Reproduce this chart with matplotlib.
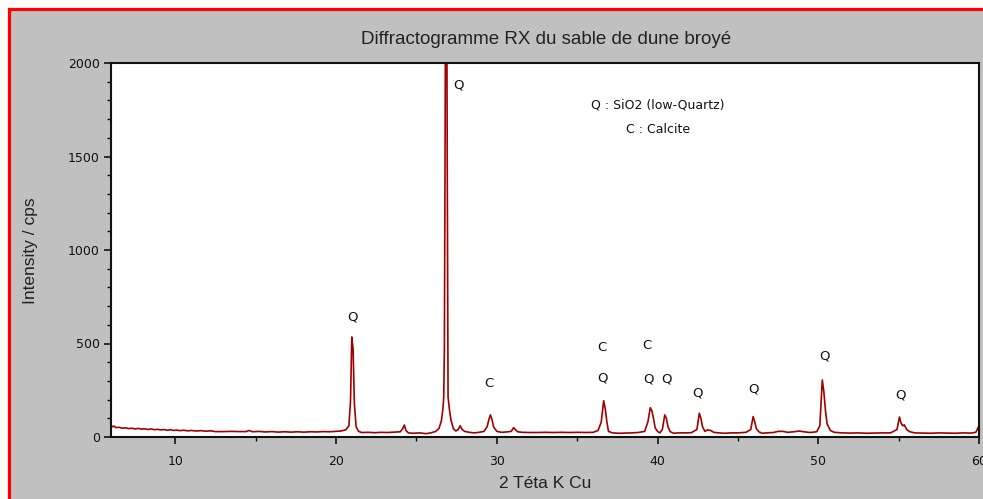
import matplotlib
matplotlib.use("Agg")
import matplotlib.pyplot as plt
from matplotlib.patches import Rectangle
from matplotlib.ticker import MultipleLocator

# ---- data ----
two_theta = [
    6.0, 6.1, 6.2, 6.3, 6.5, 6.7, 6.9, 7.1, 7.3, 7.5, 7.7, 7.9, 8.1, 8.3, 8.5, 8.7, 8.9,
    9.1, 9.3, 9.5, 9.7, 9.9, 10.1, 10.3, 10.5, 10.8, 11.0, 11.3, 11.6, 11.9, 12.2, 12.5,
    13.0, 13.5, 14.0, 14.4, 14.6, 14.8, 15.2, 15.6, 16.0, 16.4, 16.8, 17.2, 17.6, 18.0,
    18.4, 18.8, 19.2, 19.6, 20.0, 20.3, 20.6, 20.8, 20.9, 20.98, 21.06, 21.14, 21.25,
    21.4, 21.6, 22.0, 22.4, 22.8, 23.2, 23.6, 24.0, 24.15, 24.25, 24.35, 24.5, 24.8,
    25.2, 25.6, 25.9, 26.2, 26.4, 26.55, 26.65, 26.7, 26.74, 26.78, 26.82, 26.88,
    26.92, 26.97, 27.05, 27.15, 27.3, 27.45, 27.6, 27.72, 27.85, 28.0, 28.3, 28.6,
    28.9, 29.2, 29.4, 29.5, 29.6, 29.7, 29.8, 30.0, 30.3, 30.6, 30.9, 31.05, 31.15,
    31.3, 31.6, 32.0, 32.5, 33.0, 33.5, 34.0, 34.5, 35.0, 35.5, 36.0, 36.3, 36.5,
    36.65, 36.75, 36.85, 36.95, 37.2, 37.6, 38.0, 38.4, 38.8, 39.2, 39.4, 39.55,
    39.65, 39.75, 39.85, 40.0, 40.15, 40.3, 40.45, 40.55, 40.65, 40.8, 41.0, 41.3,
    41.7, 42.1, 42.45, 42.6, 42.7, 42.8, 42.95, 43.1, 43.3, 43.5, 43.8, 44.2, 44.6,
    45.0, 45.5, 45.8, 45.95, 46.05, 46.15, 46.3, 46.5, 46.8, 47.2, 47.5, 47.8, 48.1,
    48.5, 48.8, 49.1, 49.5, 49.9, 50.1, 50.25, 50.35, 50.45, 50.55, 50.75, 51.0, 51.5,
    52.0, 52.5, 53.0, 53.5, 54.0, 54.5, 54.9, 55.05, 55.15, 55.25, 55.35, 55.5, 55.7,
    56.0, 56.5, 57.0, 57.5, 58.0, 58.5, 59.0, 59.5, 59.8, 60.0,
]
intensity = [
    62, 55, 58, 50, 52, 47, 49, 45, 47, 43, 46, 42, 44, 40, 43, 39, 41,
    38, 40, 36, 39, 35, 37, 34, 36, 33, 35, 32, 34, 31, 33, 29,
    29, 30, 29, 29, 35, 28, 30, 27, 29, 26, 28, 26, 28, 26,
    28, 27, 29, 28, 30, 32, 38, 60, 190, 535, 470, 180, 55,
    30, 24, 25, 23, 25, 24, 26, 28, 45, 64, 35, 22, 20,
    22, 18, 22, 30, 45, 85, 150, 214, 476, 1420, 2600, 2600,
    1414, 214, 150, 90, 45, 32, 40, 60, 40, 30, 25, 22,
    25, 30, 55, 90, 118, 95, 55, 30, 25, 27, 30, 50, 40,
    28, 25, 24, 24, 25, 24, 25, 24, 25, 24, 25, 35, 80,
    194, 150, 80, 30, 22, 20, 21, 22, 24, 30, 80, 157,
    140, 100, 50, 30, 22, 40, 118, 100, 55, 28, 20, 22,
    22, 23, 40, 127, 100, 55, 30, 38, 35, 25, 22, 20, 22,
    22, 25, 40, 109, 80, 45, 28, 20, 22, 24, 30, 30, 25,
    28, 32, 28, 24, 28, 60, 305, 240, 140, 70, 35, 25, 22,
    21, 22, 20, 21, 22, 22, 40, 107, 75, 60, 65, 40, 28,
    22, 21, 20, 22, 21, 20, 22, 21, 25, 60,
]

peak_labels = ["Q", "Q", "C", "C", "Q", "C", "Q", "Q", "Q", "Q", "Q", "Q"]
label_x = [27.6, 21.0, 29.5, 36.55, 36.6, 39.35, 39.45, 40.55, 42.5, 45.95, 50.4, 55.1]
label_y = [1883, 642, 284, 476, 316, 487, 310, 310, 235, 257, 433, 225]

legend_lines = ["Q : SiO2 (low-Quartz)", "C : Calcite"]

title = "Diffractogramme RX du sable de dune broyé"
xlabel = "2 Téta K Cu"
ylabel = "Intensity / cps"

# ---- figure ----
W, H = 983, 499
fig = plt.figure(figsize=(W / 100, H / 100), dpi=100, facecolor="white")
fig.patches.append(Rectangle((8.5 / W, -0.1), 1.2, (H - 8.5) / H + 0.1,
                             transform=fig.transFigure, facecolor="#c0c0c0",
                             edgecolor="#ff0000", linewidth=2.3, zorder=-10))

ax = fig.add_axes([111 / W, (H - 437) / H, (979 - 111) / W, (437 - 63) / H])
ax.set_zorder(5)
ax.set_facecolor("white")
ax.plot(two_theta, intensity, color="#a00000", linewidth=1.2, clip_on=True)
ax.set_xlim(6, 60)
ax.set_ylim(0, 2000)

narrow = ["Liberation Sans Narrow", "DejaVu Sans"]
sans = ["Liberation Sans", "DejaVu Sans"]

ax.xaxis.set_major_locator(MultipleLocator(10))
ax.xaxis.set_minor_locator(MultipleLocator(5))
ax.yaxis.set_major_locator(MultipleLocator(500))
ax.yaxis.set_minor_locator(MultipleLocator(100))
ax.tick_params(which="major", direction="out", length=5, width=1.2, colors="#111111",
               top=False, right=False, pad=3)
ax.tick_params(which="minor", direction="out", length=3, width=1.0, colors="#111111",
               top=False, right=False)
for lab in ax.get_xticklabels() + ax.get_yticklabels():
    lab.set_fontfamily(narrow)
    lab.set_fontsize(9)
    lab.set_color("#111111")
ax.tick_params(axis="x", pad=8)
for s in ax.spines.values():
    s.set_linewidth(1.5)
    s.set_color("#111111")

for t, x, y in zip(peak_labels, label_x, label_y):
    ax.text(x, y, t, ha="center", va="center", fontsize=9.5, family=narrow, color="#111111")

ax.text(0.630, 0.888, legend_lines[0], transform=ax.transAxes, ha="center", va="center",
        fontsize=9, family=narrow, color="#111111")
ax.text(0.630, 0.821, legend_lines[1], transform=ax.transAxes, ha="center", va="center",
        fontsize=9, family=narrow, color="#111111")

fig.text(546 / W, 1 - 40 / H, title, ha="center", va="center", fontsize=13.5,
         family=sans, color="#222222")
fig.text(545 / W, 1 - 483 / H, xlabel, ha="center", va="center", fontsize=12.5,
         family=sans, color="#222222")
fig.text(30 / W, 1 - 251 / H, ylabel, ha="center", va="center", rotation=90,
         fontsize=12.5, family=sans, color="#222222")

fig.savefig("out.png", dpi=100, facecolor=fig.get_facecolor())
